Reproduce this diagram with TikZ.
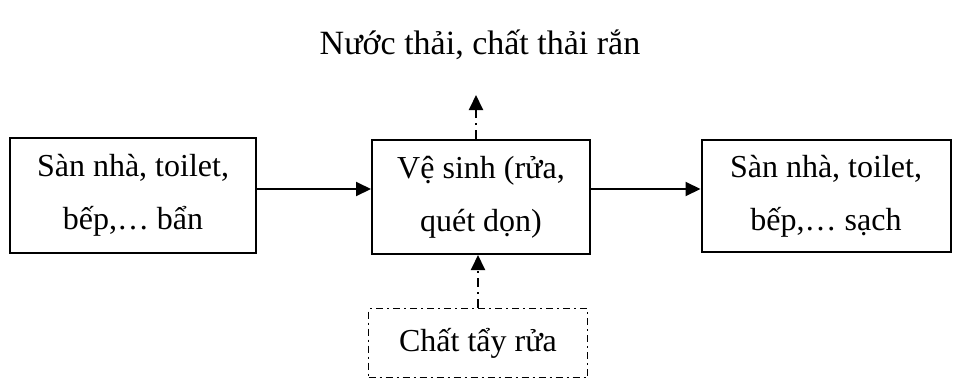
\documentclass[tikz,border=0pt]{standalone}
\usepackage{fontspec}
\setmainfont{Liberation Serif}
\usetikzlibrary{arrows.meta}
\tikzset{
  box/.style={draw, line width=2pt, align=center, inner sep=0pt, font=\fontsize{32}{53}\selectfont},
  arr/.style={line width=2pt, -{Triangle[length=15pt,width=14pt]}},
  dd/.style={dash pattern=on 9pt off 5pt on 2pt off 5pt},
  ddbox/.style={dash pattern=on 7pt off 4pt on 2pt off 4pt},
  lbl/.style={font=\fontsize{34}{40}\selectfont, inner sep=0pt}
}
\begin{document}
\begin{tikzpicture}[x=1pt,y=-1pt]
\useasboundingbox (0,0) rectangle (961,381);
\node[lbl] (T) at (480,45) {Nước thải, chất thải rắn};
\node[box, minimum width=246pt, minimum height=115pt] (L) at (133,195) {Sàn nhà, toilet,\\bếp,… bẩn};
\node[box, minimum width=218pt, minimum height=114pt] (M) at (481,197) {Vệ sinh (rửa,\\quét dọn)};
\node[box, minimum width=249pt, minimum height=112pt] (R) at (826,196) {Sàn nhà, toilet,\\bếp,… sạch};
\node[box, ddbox, line width=1.5pt, minimum width=219pt, minimum height=69pt] (D) at (478,343) {Chất tẩy rửa};
\coordinate (top) at (476,95);
\draw[arr] ([yshift=6pt]L.east) -- ([yshift=6pt]L.east -| M.west);
\draw[arr] ([yshift=8pt]M.east) -- ([yshift=8pt]M.east -| R.west);
\draw[arr, dd] (M.north -| top) -- (top);
\draw[arr, dd] (D.north) -- (D.north |- M.south);
\end{tikzpicture}
\end{document}
